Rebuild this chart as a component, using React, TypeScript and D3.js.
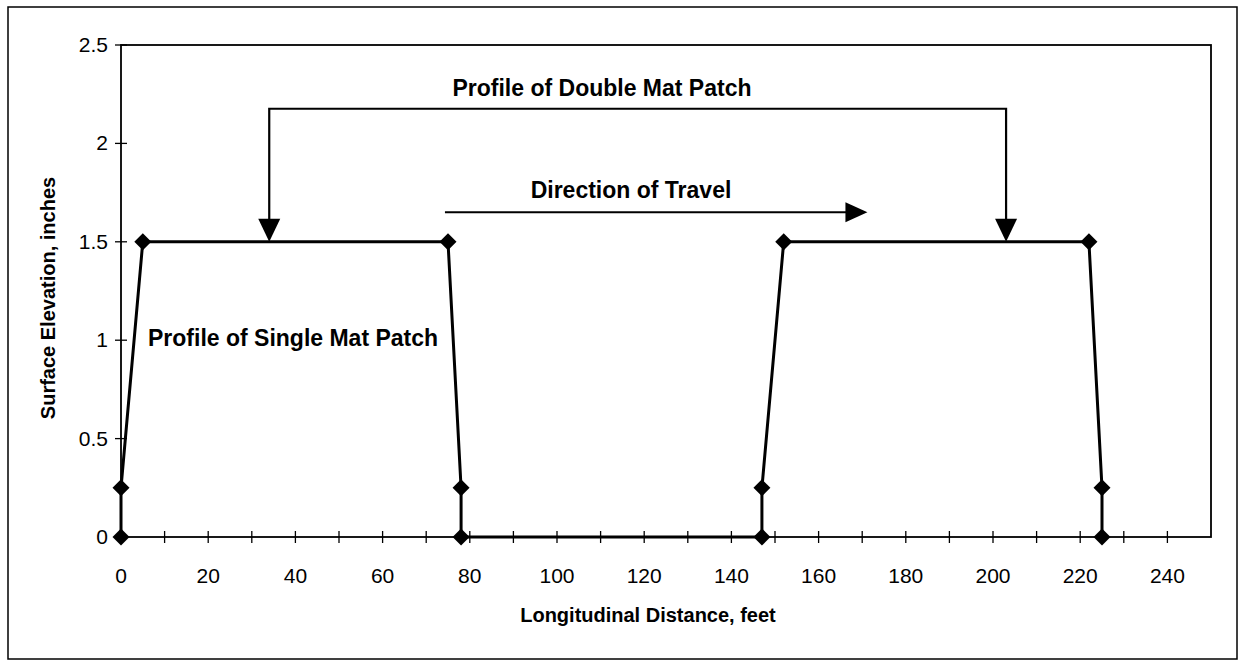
import React from "react";
import * as d3 from "d3";

// Data: longitudinal distance (feet) and surface elevation (inches)
const distanceFt = [0, 0, 5, 75, 78, 78, 147, 147, 152, 222, 225, 225];
const elevationIn = [0, 0.25, 1.5, 1.5, 0.25, 0, 0, 0.25, 1.5, 1.5, 0.25, 0];

const xTickValues = [0, 20, 40, 60, 80, 100, 120, 140, 160, 180, 200, 220, 240];
const xMinorTicks = [0, 10, 20, 30, 40, 50, 60, 70, 80, 90, 100, 110, 120, 130, 140, 150, 160, 170, 180, 190, 200, 210, 220, 230, 240];
const yTickValues = [0, 0.5, 1, 1.5, 2, 2.5];
const yTickLabels = ["0", "0.5", "1", "1.5", "2", "2.5"];

// Annotation anchors (data units)
const doubleBracket = { x1: 34, x2: 203, top: 2.176, tip: 1.5 };
const travelArrow = { x1: 74.3, x2: 171.2, y: 1.65 };

const W = 1242;
const H = 663;
const M = { left: 121, right: 1211, top: 45, bottom: 537 };
const FONT = "'Liberation Sans', Arial, Helvetica, sans-serif";

export default function App() {
  const x = d3.scaleLinear().domain([0, 250]).range([M.left, M.right]);
  const y = d3.scaleLinear().domain([0, 2.5]).range([M.bottom, M.top]);

  const pts = distanceFt.map((d, i) => [d, elevationIn[i]] as [number, number]);
  const line = d3
    .line<[number, number]>()
    .x((d) => x(d[0]))
    .y((d) => y(d[1]));

  const diamond = (cx: number, cy: number, r: number) =>
    `M${cx},${cy - r}L${cx + r},${cy}L${cx},${cy + r}L${cx - r},${cy}Z`;

  const downArrow = (cx: number, tipY: number) =>
    `M${cx - 11},${tipY - 23}L${cx + 11},${tipY - 23}L${cx},${tipY}Z`;

  const bx1 = x(doubleBracket.x1);
  const bx2 = x(doubleBracket.x2);
  const bTop = y(doubleBracket.top);
  const bTip = y(doubleBracket.tip);
  const tx1 = x(travelArrow.x1);
  const tx2 = x(travelArrow.x2);
  const ty = y(travelArrow.y);

  return (
    <svg
      width={W}
      height={H}
      style={{ position: "absolute", left: 0, top: 0, background: "#fff" }}
    >
      <rect x={0} y={0} width={W} height={H} fill="#fff" />
      {/* outer frame */}
      <rect x={8} y={7} width={1229} height={652} fill="none" stroke="#000" strokeWidth={1.5} />

      {/* plot frame */}
      <rect
        x={M.left}
        y={M.top}
        width={M.right - M.left}
        height={M.bottom - M.top}
        fill="none"
        stroke="#000"
        strokeWidth={1.8}
      />

      {/* y ticks */}
      {yTickValues.map((v, i) => (
        <g key={"y" + i}>
          <line x1={M.left - 6} x2={M.left + 6} y1={y(v)} y2={y(v)} stroke="#000" strokeWidth={1.3} />
          <text
            x={M.left - 13}
            y={y(v) + 7}
            textAnchor="end"
            fontFamily={FONT}
            fontSize={21}
            fill="#000"
          >
            {yTickLabels[i]}
          </text>
        </g>
      ))}

      {/* x ticks */}
      {xMinorTicks.map((v) => (
        <line
          key={"xm" + v}
          x1={x(v)}
          x2={x(v)}
          y1={M.bottom - 6}
          y2={M.bottom + 6}
          stroke="#000"
          strokeWidth={1.3}
        />
      ))}
      {xTickValues.map((v) => (
        <text
          key={"xl" + v}
          x={x(v)}
          y={M.bottom + 46}
          textAnchor="middle"
          fontFamily={FONT}
          fontSize={21}
          fill="#000"
        >
          {v}
        </text>
      ))}

      {/* axis titles */}
      <text
        x={648}
        y={622}
        textAnchor="middle"
        fontFamily={FONT}
        fontWeight="bold"
        fontSize={20}
        fill="#000"
      >
        Longitudinal Distance, feet
      </text>
      <text
        transform={`translate(55,298) rotate(-90)`}
        textAnchor="middle"
        fontFamily={FONT}
        fontWeight="bold"
        fontSize={20}
        fill="#000"
      >
        Surface Elevation, inches
      </text>

      {/* data line */}
      <path d={line(pts) || ""} fill="none" stroke="#000" strokeWidth={3} strokeLinejoin="round" />
      {pts.map((p, i) => (
        <path key={"m" + i} d={diamond(x(p[0]), y(p[1]), 8.5)} fill="#000" />
      ))}

      {/* double mat bracket */}
      <path
        d={`M${bx1},${bTip - 20}L${bx1},${bTop}L${bx2},${bTop}L${bx2},${bTip - 20}`}
        fill="none"
        stroke="#000"
        strokeWidth={2.2}
      />
      <path d={downArrow(bx1, bTip)} fill="#000" />
      <path d={downArrow(bx2, bTip)} fill="#000" />
      <text
        x={602}
        y={96}
        textAnchor="middle"
        fontFamily={FONT}
        fontWeight="bold"
        fontSize={23}
        fill="#000"
      >
        Profile of Double Mat Patch
      </text>

      {/* direction of travel */}
      <line x1={tx1} x2={tx2 - 18} y1={ty} y2={ty} stroke="#000" strokeWidth={2} />
      <path d={`M${tx2},${ty}L${tx2 - 22},${ty - 10}L${tx2 - 22},${ty + 10}Z`} fill="#000" />
      <text
        x={631}
        y={198}
        textAnchor="middle"
        fontFamily={FONT}
        fontWeight="bold"
        fontSize={23}
        fill="#000"
      >
        Direction of Travel
      </text>

      {/* single mat label */}
      <text
        x={148}
        y={346}
        textAnchor="start"
        fontFamily={FONT}
        fontWeight="bold"
        fontSize={23}
        fill="#000"
      >
        Profile of Single Mat Patch
      </text>
    </svg>
  );
}
